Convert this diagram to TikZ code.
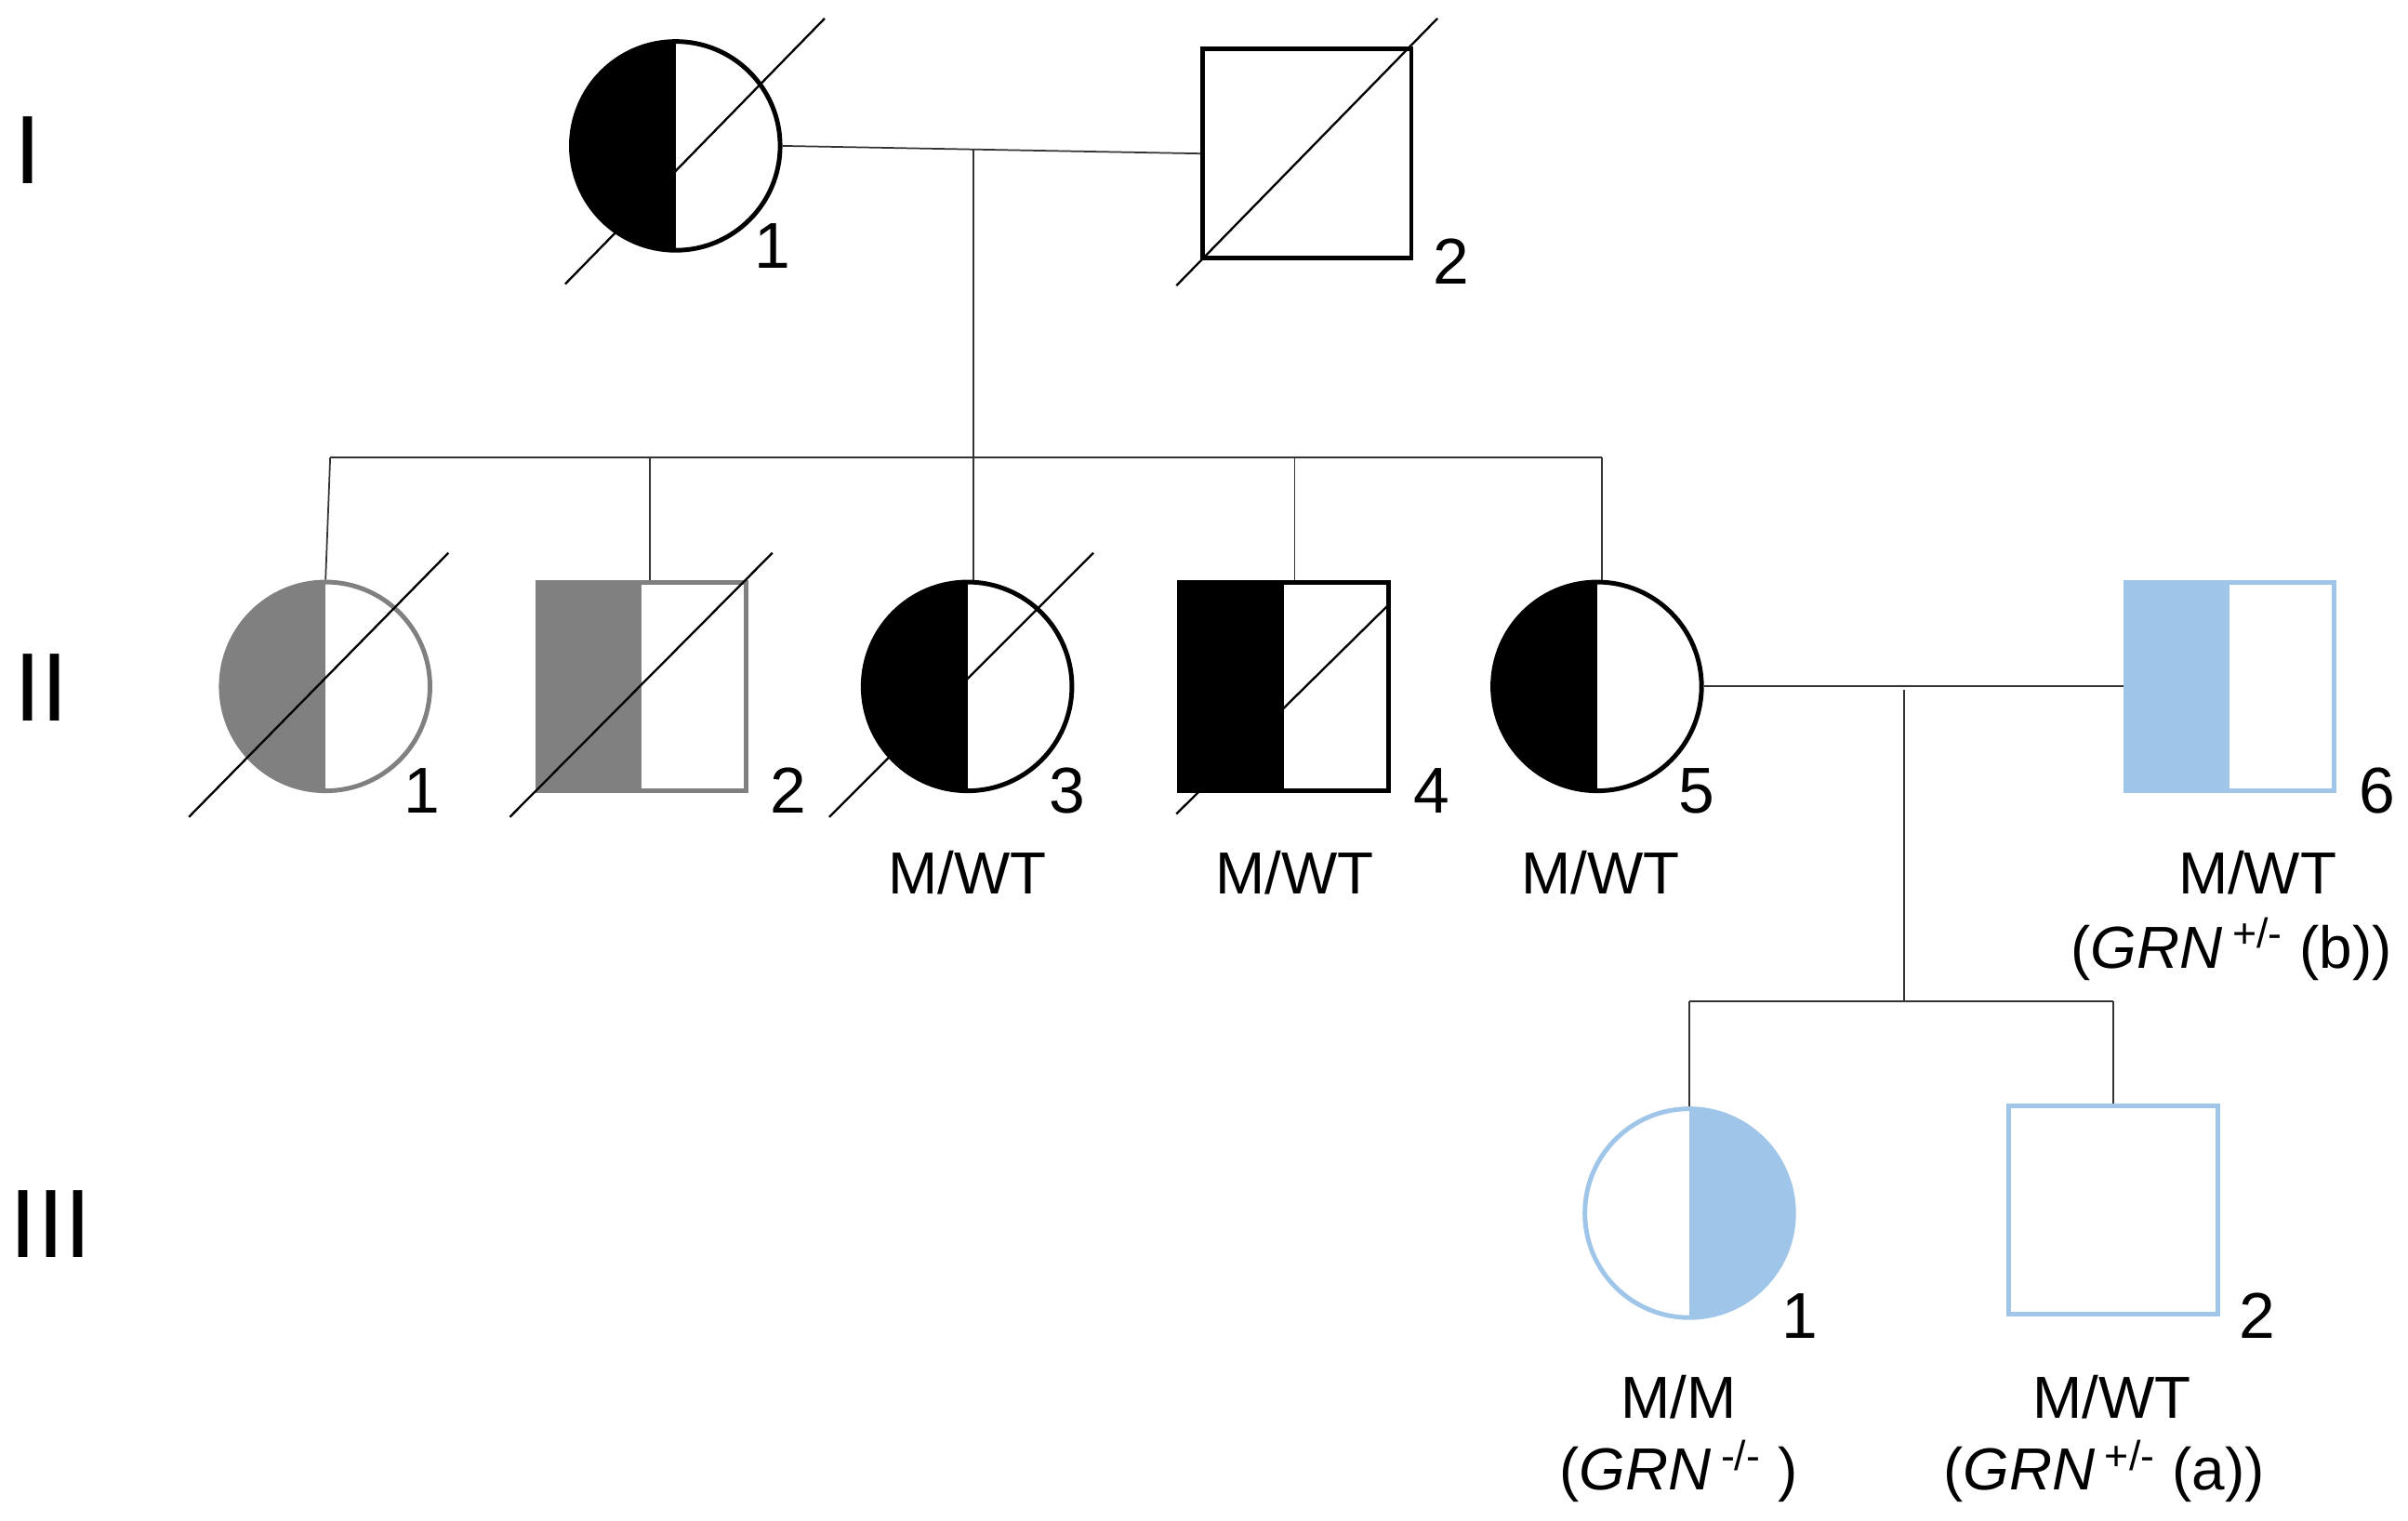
\documentclass[tikz,border=0pt]{standalone}
\usepackage{fontspec}
\setmainfont{Liberation Sans}
\usetikzlibrary{positioning}
\definecolor{lblue}{HTML}{9FC5E8}
\definecolor{dgray}{HTML}{808080}
\tikzset{
  person/.style={draw, line width=1.7pt, inner sep=0pt},
  female/.style={person, circle, minimum size=2.72cm,
    path picture={\fill[#1] (path picture bounding box.north west) rectangle (path picture bounding box.south);}},
  male/.style={person, rectangle, minimum size=2.72cm,
    path picture={\fill[#1] (path picture bounding box.north west) rectangle (path picture bounding box.south);}},
  femaleR/.style={person, circle, minimum size=2.72cm,
    path picture={\fill[#1] (path picture bounding box.north) rectangle (path picture bounding box.south east);}},
  line/.style={line width=0.6pt, color=black!80},
  dead/.style={line width=0.8pt},
  num/.style={font=\fontsize{24}{28}\selectfont},
  geno/.style={font=\fontsize{22}{26}\selectfont},
  gen/.style={font=\fontsize{36}{40}\selectfont}
}
\begin{document}
\begin{tikzpicture}[x=0.02cm,y=0.02cm]
\useasboundingbox (0,0) rectangle (1568,-990);
% generation labels
\node[gen] (gI) at (18,-98) {I};
\node[gen] (gII) at (27,-448) {II};
\node[gen] (gIII) at (33,-797) {III};
% generation I
\node[female=black] (i1) at (440,-95) {};
\node[male=white] (i2) at (851,-100) {};
\draw[dead] (i1) ++(-72,-90) -- ++(169,173);
\draw[dead] (i2) ++(-85,-86) -- ++(170,174);
\node[num] at (503,-160) {1};
\node[num] at (945,-170) {2};
\coordinate (m1) at (634,-97);
\draw[line] (i1.east) -- (i2.west);
% generation II
\node[female=dgray, draw=dgray] (ii1) at (212,-447) {};
\node[male=dgray, draw=dgray] (ii2) at (418,-447) {};
\node[female=black] (ii3) at (630,-447) {};
\node[male=black] (ii4) at (836,-447) {};
\node[female=black] (ii5) at (1040,-447) {};
\node[male=lblue, draw=lblue] (ii6) at (1452,-447) {};
\draw[dead] (ii1) ++(-89,-85) -- ++(169,172);
\draw[dead] (ii2) ++(-86,-85) -- ++(171,172);
\draw[dead] (ii3) ++(-90,-85) -- ++(172,172);
\draw[dead] (ii4) ++(-70,-83) -- ++(139,137);
\coordinate (s1) at (215,-298);
\coordinate (s2) at (1043,-298);
\draw[line] (m1) -- (634,-298);
\draw[line] (s1) -- (s2);
\draw[line] (s1) -- (ii1.north);
\draw[line] (423,-298) -- (ii2.north -| 423,0);
\draw[line] (634,-298) -- (ii3.north -| 634,0);
\draw[line] (843,-298) -- (ii4.north -| 843,0);
\draw[line] (s2) -- (ii5.north -| s2);
\node[num] at (275,-515) {1};
\node[num] at (513,-515) {2};
\node[num] at (695,-515) {3};
\node[num] at (932,-515) {4};
\node[num] at (1105,-515) {5};
\node[num] at (1548,-515) {6};
\node[geno] at (630,-568) {M/WT};
\node[geno] at (843,-568) {M/WT};
\node[geno] at (1042,-568) {M/WT};
\node[geno] at (1470,-568) {M/WT};
\node[geno] at (1453,-618) {(\textit{GRN}\,\textsuperscript{+/-} (b))};
% generation III
\coordinate (m2) at (1240,-449);
\draw[line] (ii5.east) -- (ii6.west);
\node[femaleR=lblue, draw=lblue] (iii1) at (1100,-790) {};
\node[male=white, draw=lblue] (iii2) at (1376,-788) {};
\coordinate (t1) at (1100,-652);
\coordinate (t2) at (1376,-652);
\draw[line] (m2) -- (1240,-652);
\draw[line] (t1) -- (t2);
\draw[line] (t1) -- (iii1.north);
\draw[line] (t2) -- (iii2.north);
\node[num] at (1172,-857) {1};
\node[num] at (1470,-857) {2};
\node[geno] at (1093,-910) {M/M};
\node[geno] at (1093,-958) {(\textit{GRN}\,\textsuperscript{-/-} )};
\node[geno] at (1375,-910) {M/WT};
\node[geno] at (1370,-958) {(\textit{GRN}\,\textsuperscript{+/-} (a))};
\end{tikzpicture}
\end{document}
